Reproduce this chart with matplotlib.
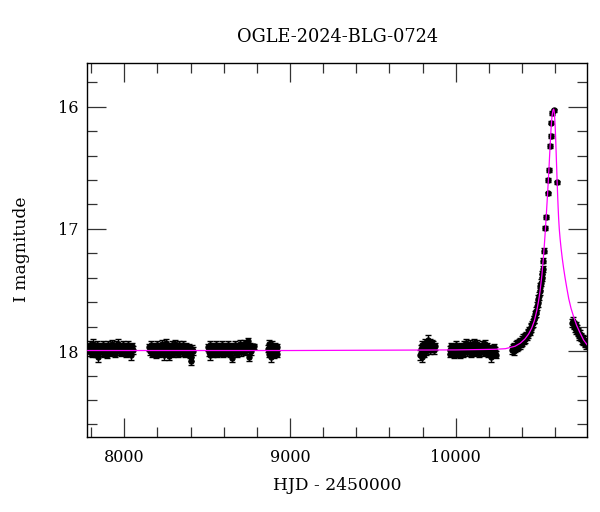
import matplotlib
matplotlib.use("Agg")
import matplotlib.pyplot as plt
import numpy as np
from matplotlib.ticker import MultipleLocator

plt.rcParams['font.family'] = ['DejaVu Serif']

title = "OGLE-2024-BLG-0724"
xlabel = "HJD - 2450000"
ylabel = "I magnitude"

# (HJD-2450000, I mag, error) per observing season
season1 = [(7786,17.98,.03),(7791,17.95,.03),(7796,18.01,.03),(7800,17.96,.03),(7805,18.02,.03),
           (7810,17.94,.04),(7815,17.99,.03),(7820,18.00,.03),(7825,17.97,.03),(7830,18.02,.03),
           (7835,17.95,.03),(7840,18.05,.04),(7845,17.98,.03),(7850,17.96,.03),(7855,18.01,.03),
           (7860,17.97,.03),(7866,17.99,.03),(7871,17.95,.03),(7876,18.02,.03),(7881,17.96,.03),
           (7886,18.00,.03),(7892,17.97,.03),(7897,18.03,.03),(7902,17.95,.03),(7908,17.98,.03),
           (7913,18.01,.03),(7918,17.96,.03),(7924,17.99,.03),(7929,17.94,.03),(7935,18.00,.03),
           (7940,17.97,.03),(7946,18.02,.03),(7951,17.95,.03),(7957,17.98,.03),(7962,17.94,.04),
           (7968,18.00,.03),(7973,17.96,.03),(7979,18.01,.03),(7985,17.97,.03),(7990,17.95,.03),
           (7996,18.00,.03),(8002,17.96,.03),(8008,18.02,.03),(8014,17.97,.03),(8020,17.95,.03),
           (8026,18.01,.03),(8032,17.98,.03),(8038,18.03,.04),(8044,17.96,.03),(8050,17.99,.03)]
season2 = [(8152,17.97,.03),(8157,18.00,.03),(8162,17.95,.03),(8167,18.02,.03),(8172,17.98,.03),
           (8177,17.96,.03),(8183,18.01,.03),(8188,17.97,.03),(8193,18.03,.03),(8199,17.95,.03),
           (8204,17.99,.03),(8210,18.02,.03),(8215,17.96,.03),(8221,18.00,.03),(8226,17.94,.03),
           (8232,17.98,.03),(8237,18.03,.04),(8243,17.96,.03),(8248,17.99,.03),(8254,17.93,.03),
           (8260,18.01,.03),(8265,17.97,.03),(8271,18.04,.03),(8276,17.96,.03),(8282,17.99,.03),
           (8288,17.95,.03),(8293,18.02,.03),(8299,17.97,.03),(8305,17.94,.03),(8311,18.00,.03),
           (8317,17.96,.03),(8323,18.02,.03),(8329,17.95,.03),(8335,17.99,.03),(8341,17.97,.03),
           (8347,18.01,.03),(8353,17.95,.03),(8359,17.98,.03),(8365,18.02,.03),(8371,17.96,.03),
           (8377,17.99,.03),(8383,18.01,.03),(8390,17.97,.03),(8396,18.03,.03),(8402,18.05,.03),
           (8405,18.08,.03),(8410,17.98,.03),(8416,18.00,.03)]
season3 = [(8505,17.97,.03),(8510,18.01,.03),(8515,17.95,.03),(8520,18.03,.04),(8525,17.98,.03),
           (8531,17.96,.03),(8536,18.02,.03),(8542,17.97,.03),(8547,18.00,.03),(8553,17.95,.03),
           (8558,18.02,.03),(8564,17.98,.03),(8569,17.96,.03),(8575,18.01,.03),(8580,17.97,.03),
           (8586,17.99,.03),(8592,17.95,.03),(8597,18.02,.03),(8603,17.96,.03),(8609,18.00,.03),
           (8614,17.97,.03),(8620,18.01,.03),(8626,17.95,.03),(8632,17.98,.03),(8638,18.02,.03),
           (8644,17.96,.03),(8649,18.06,.03),(8655,17.97,.03),(8661,18.00,.03),(8667,17.95,.03),
           (8673,17.99,.03),(8679,18.02,.03),(8685,17.96,.03),(8691,17.98,.03),(8697,17.94,.03),
           (8703,18.01,.03),(8709,17.96,.03),(8715,17.99,.03),(8721,17.94,.03),(8727,18.00,.03),
           (8733,17.95,.03),(8739,17.97,.03),(8745,17.92,.03),(8750,17.99,.03),(8755,18.05,.03),
           (8760,17.96,.03),(8766,18.00,.03),(8785,17.96,.02)]
season4 = [(8867,17.98,.03),(8871,17.94,.03),(8875,18.02,.03),(8879,17.96,.03),(8883,18.05,.04),
           (8887,17.99,.03),(8891,17.95,.03),(8895,18.01,.03),(8899,17.97,.03),(8903,18.03,.03),
           (8907,17.96,.03),(8911,18.00,.03),(8915,17.98,.03),(8919,18.02,.03),(8923,17.97,.03)]
season5 = [(9786,18.03,.04),(9790,17.98,.03),(9794,18.05,.04),(9798,17.95,.03),(9802,18.01,.03),
           (9806,17.96,.03),(9810,18.02,.03),(9814,17.93,.03),(9818,17.98,.03),(9822,18.00,.03),
           (9826,17.94,.03),(9830,17.97,.03),(9834,17.91,.04),(9838,17.95,.03),(9842,17.99,.03),
           (9846,17.93,.03),(9850,17.96,.03),(9854,17.94,.03),(9858,17.98,.03),(9862,17.95,.03),
           (9866,17.97,.03),(9871,17.99,.03),(9876,17.96,.03)]
season6 = [(9963,17.99,.03),(9968,18.02,.03),(9973,17.96,.03),(9978,18.01,.03),(9983,17.98,.03),
           (9988,18.03,.03),(9993,17.97,.03),(9998,18.00,.03),(10004,17.95,.03),(10009,18.02,.03),
           (10014,17.97,.03),(10019,17.99,.03),(10025,18.03,.03),(10030,17.96,.03),(10035,18.00,.03),
           (10041,17.97,.03),(10046,18.02,.03),(10052,17.95,.03),(10057,17.98,.03),(10063,17.93,.03),
           (10068,18.01,.03),(10074,17.96,.03),(10079,17.99,.03),(10085,17.94,.03),(10091,18.02,.03),
           (10096,17.96,.03),(10102,17.99,.03),(10108,17.93,.03),(10113,18.01,.03),(10119,17.97,.03),
           (10125,18.00,.03),(10131,17.94,.03),(10137,17.98,.03),(10143,18.02,.03),(10149,17.96,.03),
           (10155,17.99,.03),(10161,17.95,.03),(10167,18.01,.03),(10173,17.97,.03),(10179,17.94,.03),
           (10185,18.00,.03),(10191,17.96,.03),(10197,18.02,.03),(10203,17.98,.03),(10209,18.01,.03),
           (10215,18.05,.04),(10221,17.99,.03),(10227,18.02,.03),(10233,17.97,.03),(10239,18.00,.03),
           (10245,18.03,.03)]
season7 = [(10340,17.99,.03),(10345,17.97,.03),(10350,18.00,.03),(10354,17.96,.03),(10358,17.98,.03),
           (10363,17.95,.03),(10367,17.97,.03),(10372,17.94,.03),(10376,17.96,.03),(10381,17.93,.03),
           (10385,17.95,.03),(10390,17.92,.03),(10394,17.94,.03),(10399,17.91,.03),(10403,17.93,.03),
           (10408,17.89,.03),(10412,17.91,.03),(10417,17.88,.03),(10421,17.90,.03),(10426,17.87,.03),
           (10430,17.88,.03),(10435,17.85,.03),(10439,17.86,.03),(10444,17.83,.03),(10448,17.84,.03),
           (10452,17.80,.03),(10457,17.81,.03),(10461,17.78,.03),(10466,17.77,.03),(10470,17.74,.03),
           (10474,17.74,.03),(10479,17.70,.03),(10483,17.69,.03),(10487,17.67,.03),(10491,17.63,.03),
           (10495,17.61,.03),(10499,17.57,.03),(10503,17.55,.03),(10507,17.51,.03),(10511,17.47,.03),
           (10514,17.44,.03),(10518,17.40,.03),(10521,17.37,.025),(10524,17.33,.025),(10527,17.26,.02),
           (10531,17.18,.02),(10541,16.99,.015),(10547,16.90,.015),(10555,16.71,.015),(10559,16.60,.015),
           (10563,16.52,.015),(10569,16.32,.015),(10573,16.24,.015),(10575,16.13,.015),(10583,16.05,.015),
           (10593,16.03,.015),(10609,16.62,.015)]
season8 = [(10703,17.77,.03),(10707,17.75,.03),(10711,17.79,.03),(10715,17.78,.03),(10719,17.81,.03),
           (10723,17.79,.03),(10727,17.83,.03),(10731,17.82,.03),(10735,17.85,.03),(10739,17.84,.03),
           (10743,17.86,.03),(10747,17.88,.03),(10751,17.86,.03),(10755,17.89,.03),(10759,17.88,.03),
           (10763,17.91,.03),(10767,17.90,.03),(10771,17.92,.03),(10775,17.91,.03),(10779,17.94,.03),
           (10783,17.93,.03),(10787,17.95,.03),(10790,17.94,.03)]

# model light curve: (HJD-2450000, I mag)
model_curve = [(7780,17.995),(9000,17.995),(10000,17.99),(10237,17.985),(10300,17.98),(10358,17.96),
               (10390,17.935),(10418,17.90),(10440,17.86),(10459,17.81),(10475,17.75),(10489,17.67),
               (10500,17.59),(10509,17.51),(10520,17.38),(10529,17.24),(10536,17.11),(10541,17.01),
               (10547,16.88),(10555,16.70),(10563,16.50),(10569,16.34),(10575,16.19),(10579,16.11),
               (10583,16.06),(10587,16.03),(10591,16.02),(10594,16.035),(10597,16.08),(10600,16.15),
               (10603,16.25),(10606,16.37),(10609,16.49),(10612,16.61),(10615,16.72),(10618,16.82),
               (10621,16.91),(10625,17.00),(10630,17.08),(10636,17.16),(10643,17.24),(10651,17.32),
               (10660,17.40),(10670,17.48),(10682,17.57),(10696,17.65),(10712,17.72),(10730,17.79),
               (10750,17.85),(10772,17.91),(10794,17.95)]

fig = plt.figure(figsize=(6.0, 5.12), dpi=100)
ax = fig.add_axes([0.1455, 0.1471, 0.8333, 0.7304])

data = np.array(season1 + season2 + season3 + season4 + season5 + season6 + season7 + season8)
ax.errorbar(data[:, 0], data[:, 1], yerr=data[:, 2], fmt='o', color='black', ms=3.6,
            elinewidth=1.0, capsize=2.0, capthick=1.0, zorder=2)

mc = np.array(model_curve)
ax.plot(mc[:, 0], mc[:, 1], color='#ff00ff', lw=0.9, zorder=3)

ax.set_xlim(7777, 10794)
ax.set_ylim(18.70, 15.64)

ax.xaxis.set_major_locator(MultipleLocator(1000))
ax.xaxis.set_minor_locator(MultipleLocator(200))
ax.yaxis.set_major_locator(MultipleLocator(1))
ax.yaxis.set_minor_locator(MultipleLocator(0.2))

ax.tick_params(which='both', direction='in', top=True, right=True, color='#333333', width=0.9)
ax.tick_params(which='major', length=13.5, labelsize=11.5)
ax.tick_params(which='minor', length=7.2)
ax.tick_params(axis='x', which='major', pad=9)
ax.tick_params(axis='y', which='major', pad=6.5)
for s in ax.spines.values():
    s.set_linewidth(1.0)

ax.set_title(title, fontsize=12.8, pad=15)
ax.set_xlabel(xlabel, fontsize=12.3, labelpad=7.5)
ax.set_ylabel(ylabel, fontsize=12.3, labelpad=20)

fig.savefig("out.png", dpi=100)
